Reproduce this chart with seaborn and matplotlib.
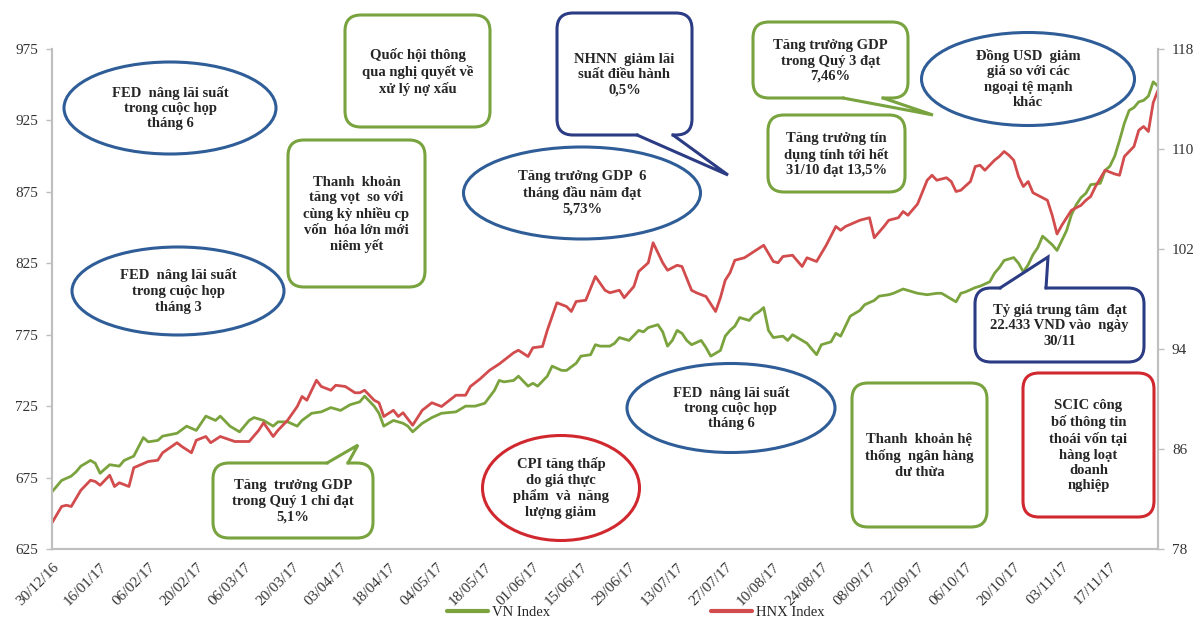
import numpy as np
import pandas as pd
import seaborn as sns
import matplotlib.pyplot as plt
from matplotlib.patches import Ellipse, FancyBboxPatch, Polygon
from matplotlib.lines import Line2D
from matplotlib.transforms import Affine2D

# trading-day index (0 = 30/12/16) and index values
vn_day = [0, 2, 4, 5, 6, 8, 9, 10, 12, 14, 15, 17, 19, 20, 22, 23, 26, 28, 30, 32,
          34, 35, 37, 39, 41, 42, 44, 46, 47, 49, 51, 52, 54, 56, 58, 60, 62, 64, 65, 67,
          68, 69, 71, 73, 74, 75, 77, 79, 81, 84, 86, 88, 90, 92, 93, 94, 96, 97, 99, 100,
          101, 103, 104, 106, 107, 109, 110, 112, 113, 114, 116, 117, 118, 120, 122, 123, 124, 126, 127, 128,
          129, 130, 131, 132, 133, 135, 136, 137, 139, 140, 141, 142, 143, 145, 146, 147, 148, 149, 150, 152,
          153, 154, 156, 157, 159, 160, 162, 163, 164, 165, 166, 168, 169, 171, 172, 174, 175, 177, 179, 180,
          182, 184, 185, 186, 188, 189, 190, 192, 193, 195, 196, 197, 198, 200, 201, 202, 203, 204, 205, 206,
          208, 209, 210, 211, 212, 213, 214, 215, 216, 218, 219, 220, 221, 222, 223, 224, 225, 226, 227, 228,
          229, 230]
vn_val = [665, 673, 676, 679, 683, 687, 685, 678, 684, 683, 687, 690, 703, 700, 701, 704, 706, 711, 708, 718,
          715, 718, 711, 707, 715, 717, 715, 711, 714, 714, 711, 715, 720, 721, 724, 722, 726, 728, 732, 725,
          720, 711, 715, 713, 711, 707, 713, 717, 720, 721, 725, 725, 727, 736, 743, 742, 743, 746, 739, 741,
          739, 746, 753, 750, 750, 755, 760, 761, 768, 767, 767, 769, 773, 771, 778, 777, 780, 782, 777, 767,
          771, 778, 776, 771, 768, 771, 766, 760, 764, 774, 778, 781, 787, 785, 789, 791, 794, 778, 773, 774,
          771, 775, 771, 769, 761, 768, 770, 776, 774, 781, 788, 792, 796, 799, 802, 803, 804, 807, 805, 804,
          803, 804, 804, 802, 798, 804, 805, 808, 809, 812, 818, 822, 827, 829, 825, 819, 824, 831, 836, 844,
          838, 834, 841, 848, 859, 866, 871, 874, 880, 881, 890, 893, 900, 911, 923, 932, 934, 938, 939, 942,
          952, 949]

hnx_day = [0, 2, 3, 4, 6, 8, 9, 10, 12, 13, 14, 16, 17, 20, 22, 23, 26, 27, 29, 30,
           32, 33, 35, 38, 40, 41, 43, 44, 46, 47, 49, 51, 52, 53, 55, 56, 58, 59, 61, 63,
           64, 65, 67, 68, 69, 71, 72, 73, 75, 77, 79, 81, 84, 86, 87, 89, 91, 93, 95, 96,
           97, 99, 100, 102, 103, 105, 107, 108, 109, 111, 113, 115, 116, 118, 119, 121, 122, 124, 125, 127,
           128, 130, 131, 133, 134, 136, 138, 139, 140, 141, 142, 144, 146, 148, 150, 151, 152, 154, 156, 157,
           159, 161, 163, 164, 165, 168, 170, 171, 173, 174, 176, 177, 178, 180, 182, 183, 184, 186, 187, 188,
           189, 191, 192, 193, 194, 196, 197, 198, 199, 200, 201, 202, 203, 204, 205, 207, 208, 209, 210, 211,
           212, 214, 215, 216, 217, 219, 221, 222, 223, 225, 226, 227, 228, 229, 230]
hnx_val = [80.1, 81.4, 81.5, 81.4, 82.7, 83.5, 83.4, 83.1, 83.9, 83.0, 83.3, 83.0, 84.5, 85.0, 85.1, 85.7, 86.5, 86.2, 85.7, 86.7,
           87.0, 86.5, 87.0, 86.6, 86.6, 86.6, 87.5, 88.1, 87.0, 87.5, 88.3, 89.4, 90.2, 89.9, 91.5, 91.0, 90.7, 91.1, 91.0, 90.5,
           90.5, 90.7, 89.9, 89.7, 88.6, 89.1, 88.6, 88.9, 87.9, 89.1, 89.7, 89.4, 90.3, 90.3, 91.0, 91.6, 92.3, 92.8, 93.4, 93.7,
           93.9, 93.4, 94.1, 94.2, 95.5, 97.7, 97.4, 97.0, 97.8, 97.9, 99.8, 98.7, 98.5, 98.7, 98.1, 99.0, 100.2, 100.9, 102.5, 100.9,
           100.3, 100.7, 100.6, 98.7, 98.5, 98.2, 97.0, 98.1, 99.5, 100.1, 101.1, 101.3, 101.8, 102.3, 101.0, 100.9, 101.4, 101.5, 100.6, 101.3,
           101.0, 102.3, 103.8, 103.5, 103.8, 104.3, 104.5, 102.9, 103.8, 104.3, 104.5, 105.0, 104.7, 105.6, 107.5, 107.9, 107.5, 107.7, 107.4, 106.6,
           106.7, 107.4, 108.6, 108.7, 108.3, 109.1, 109.4, 109.8, 109.5, 109.1, 107.8, 107.0, 107.4, 106.5, 106.3, 105.9, 104.7, 103.2, 103.9, 104.5,
           105.1, 105.5, 105.9, 106.2, 107.0, 108.3, 108.0, 107.9, 109.4, 110.2, 111.5, 111.8, 111.4, 113.7, 114.7]

tick_days = list(range(0, 221, 10))
tick_labels = ['30/12/16', '16/01/17', '06/02/17', '20/02/17', '06/03/17', '20/03/17',
               '03/04/17', '18/04/17', '04/05/17', '18/05/17', '01/06/17', '15/06/17',
               '29/06/17', '13/07/17', '27/07/17', '10/08/17', '24/08/17', '08/09/17',
               '22/09/17', '06/10/17', '20/10/17', '03/11/17', '17/11/17']

GREEN_LINE = '#7aa33e'
RED_LINE = '#d24b4d'
BLUE = '#2f5d98'
NAVY = '#2b3c84'
GREEN = '#78a33e'
RED = '#d0282e'
AXIS = '#bfbfbf'
TXT = '#262626'

sns.set_style('white')
plt.rcParams['font.family'] = ['Liberation Serif', 'DejaVu Serif']

W, H = 1203, 627
fig = plt.figure(figsize=(W / 100, H / 100), dpi=100)
ax = fig.add_axes([52 / W, 1 - 549 / H, (1158 - 52) / W, (549 - 49) / H])
ax2 = ax.twinx()

vn_df = pd.DataFrame({'day': vn_day, 'VN Index': vn_val})
hnx_df = pd.DataFrame({'day': hnx_day, 'HNX Index': hnx_val})
sns.lineplot(data=vn_df, x='day', y='VN Index', ax=ax, color=GREEN_LINE, lw=2.0)
sns.lineplot(data=hnx_df, x='day', y='HNX Index', ax=ax2, color=RED_LINE, lw=2.0)

ax.set_xlim(0, 230)
ax.set_ylim(625, 975)
ax2.set_ylim(78, 118)
ax.set_yticks(range(625, 976, 50))
ax2.set_yticks(range(78, 119, 8))
ax.set_xticks(tick_days)
ax.set_xticklabels(tick_labels, rotation=45, ha='right', rotation_mode='anchor')
for a in (ax, ax2):
    a.set_xlabel('')
    a.set_ylabel('')
    a.spines['top'].set_visible(False)
    for s in ('left', 'right', 'bottom'):
        a.spines[s].set_color(AXIS)
        a.spines[s].set_linewidth(1.5)
    a.tick_params(colors=AXIS, labelcolor='#333333', labelsize=11, length=4, width=1, pad=6)
ax.tick_params(axis='x', labelsize=11, pad=4)

# annotation shapes, in pixel coordinates from the top-left corner
pt = Affine2D().scale(1 / W, -1 / H).translate(0, 1) + fig.transFigure
font = dict(family=['Liberation Serif', 'DejaVu Serif'], weight='bold', size=10.5,
            color=TXT, ha='center', va='center', linespacing=1.25, zorder=12)

ellipses = [
    (170, 108, 212, 92, BLUE, 'FED  nâng lãi suất\ntrong cuộc họp\ntháng 6'),
    (178, 291, 212, 88, BLUE, 'FED  nâng lãi suất\ntrong cuộc họp\ntháng 3'),
    (582, 193, 237, 92, BLUE, 'Tăng trưởng GDP  6\ntháng đầu năm đạt\n5,73%'),
    (1028, 79, 213, 93, BLUE, 'Đồng USD  giảm\ngiá so với các\nngoại tệ mạnh\nkhác'),
    (731, 408, 208, 89, BLUE, 'FED  nâng lãi suất\ntrong cuộc họp\ntháng 6'),
    (561, 488, 157, 105, RED, 'CPI tăng thấp\ndo giá thực\nphẩm  và  năng\nlượng giảm'),
]
for cx, cy, w, h, c, t in ellipses:
    fig.add_artist(Ellipse((cx, cy), w, h, transform=pt, facecolor='white',
                           edgecolor=c, lw=2.2, zorder=10))
    fig.text(cx, cy, t, transform=pt, **font)

# x0, y0, x1, y1, colour, text, tail (edge, base a, base b, tip)
boxes = [
    (345, 15, 490, 127, GREEN, 'Quốc hội thông\nqua nghị quyết về\nxử lý nợ xấu', None),
    (288, 140, 425, 287, GREEN, 'Thanh  khoản\ntăng vọt  so với\ncùng kỳ nhiều cp\nvốn  hóa lớn mới\nniêm yết', None),
    (557, 13, 692, 135, NAVY, 'NHNN  giảm lãi\nsuất điều hành\n0,5%', ('bottom', 637, 673, (728, 175))),
    (753, 22, 908, 98, GREEN, 'Tăng trưởng GDP\ntrong Quý 3 đạt\n7,46%', ('bottom', 843, 883, (933, 115))),
    (768, 115, 905, 192, GREEN, 'Tăng trưởng tín\ndụng tính tới hết\n31/10 đạt 13,5%', None),
    (975, 288, 1144, 362, NAVY, 'Tỷ giá trung tâm  đạt\n22.433 VND vào  ngày\n30/11', ('top', 1000, 1046, (1048, 257))),
    (1023, 373, 1154, 517, RED, 'SCIC công\nbố thông tin\nthoái vốn tại\nhàng loạt\ndoanh\nnghiệp', None),
    (852, 383, 987, 527, GREEN, 'Thanh  khoản hệ\nthống  ngân hàng\ndư thừa', None),
    (213, 463, 373, 538, GREEN, 'Tăng  trưởng GDP\ntrong Quý 1 chỉ đạt\n5,1%', ('top', 327, 348, (358, 445))),
]
for x0, y0, x1, y1, c, t, tail in boxes:
    fig.add_artist(FancyBboxPatch((x0, y0), x1 - x0, y1 - y0,
                                  boxstyle='round,pad=0,rounding_size=16', transform=pt,
                                  facecolor='white', edgecolor=c, lw=2.2, zorder=10))
    if tail is not None:
        edge, a, b, tip = tail
        ye = y1 if edge == 'bottom' else y0
        d = -3 if edge == 'bottom' else 3
        fig.add_artist(Polygon([(a + 1.5, ye + d), (b - 1.5, ye + d), (b - 1.5, ye - d),
                                tip, (a + 1.5, ye - d)], closed=True, transform=pt,
                               facecolor='white', edgecolor='none', zorder=11))
        fig.add_artist(Line2D([a, tip[0], b], [ye, tip[1], ye], transform=pt,
                              color=c, lw=2.2, zorder=11, solid_joinstyle='miter'))
    fig.text((x0 + x1) / 2, (y0 + y1) / 2 + 1, t, transform=pt, **font)

handles = [Line2D([], [], color=GREEN_LINE, lw=3), Line2D([], [], color=RED_LINE, lw=3)]
fig.legend(handles, ['VN Index', 'HNX Index'], loc='center', bbox_to_anchor=(636 / W, 1 - 612 / H),
           ncol=2, frameon=False, columnspacing=11, handlelength=2.8, handletextpad=0.3,
           prop=dict(family='Liberation Serif', size=10.5))

fig.savefig('out.png', dpi=100, facecolor='white')
